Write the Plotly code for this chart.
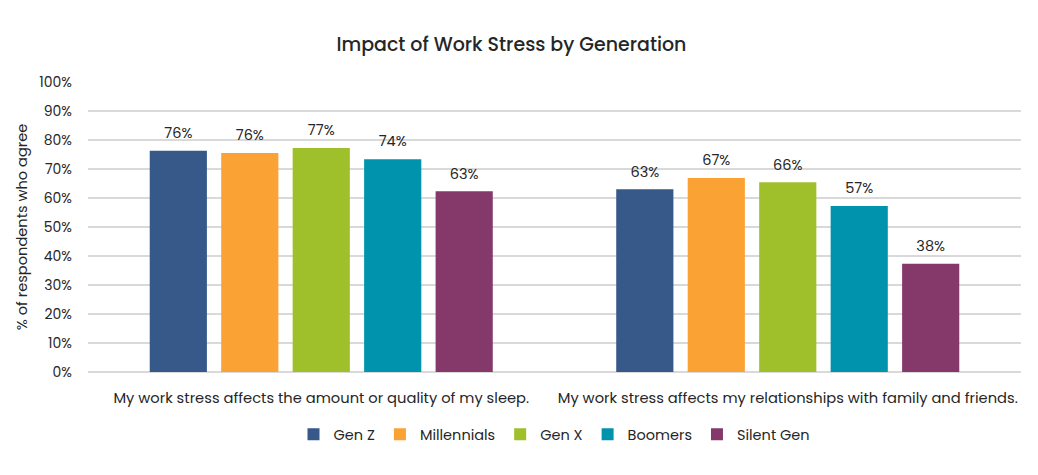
#!/usr/bin/env python3
"""Impact of work stress by generation - grouped bar chart."""

import plotly.graph_objects as go

FONT_FAMILY = "Poppins, Inter, 'Open Sans', sans-serif"
TEXT_COLOR = "#262626"
GRID_COLOR = "#d9d9d9"

categories = [
    "My work stress affects the amount or quality of my sleep.",
    "My work stress affects my relationships with family and friends.",
]
generations = ["Gen Z", "Millennials", "Gen X", "Boomers", "Silent Gen"]
colors = ["#36598a", "#fba235", "#9fbf2b", "#0093ad", "#85396b"]

# % agreeing, per generation: [sleep, relationships]
values = {
    "Gen Z": [76.3, 63.0],
    "Millennials": [75.5, 66.9],
    "Gen X": [77.2, 65.4],
    "Boomers": [73.4, 57.2],
    "Silent Gen": [62.3, 37.3],
}
labels = {
    "Gen Z": ["76%", "63%"],
    "Millennials": ["76%", "67%"],
    "Gen X": ["77%", "66%"],
    "Boomers": ["74%", "57%"],
    "Silent Gen": ["63%", "38%"],
}
y_ticks = list(range(0, 101, 10))
y_tick_labels = [f"{t}%" for t in y_ticks]

fig = go.Figure()

for gen, color in zip(generations, colors):
    fig.add_trace(
        go.Bar(
            name=gen,
            x=categories,
            y=values[gen],
            # small base font + blank second line lifts the label off the bar top
            text=[f"<span style='font-size:14.5px'>{t}</span><br> " for t in labels[gen]],
            textposition="outside",
            textfont=dict(size=6, color=TEXT_COLOR, family=FONT_FAMILY),
            constraintext="none",
            cliponaxis=False,
            marker=dict(color=color, line=dict(width=0)),
        )
    )

# the page body adds an 8px offset, so margins are trimmed to compensate
fig.update_layout(
    title=dict(
        text="Impact of Work Stress by Generation",
        x=0.485,
        xanchor="center",
        y=0.924,
        yanchor="middle",
        font=dict(size=19, color=TEXT_COLOR, family=FONT_FAMILY, weight=500),
    ),
    font=dict(family=FONT_FAMILY, color=TEXT_COLOR, size=14),
    barmode="group",
    bargap=0.234,
    bargroupgap=0.2,
    plot_bgcolor="white",
    paper_bgcolor="white",
    margin=dict(l=80, r=25, t=74, b=111, autoexpand=False),
    width=1038,
    height=475,
    xaxis=dict(
        showgrid=False,
        showline=False,
        ticks="",
        ticklabelstandoff=15,
        tickfont=dict(size=14.7, color=TEXT_COLOR),
    ),
    yaxis=dict(
        range=[0, 100],
        tickvals=y_ticks,
        ticktext=y_tick_labels,
        showgrid=True,
        gridcolor=GRID_COLOR,
        gridwidth=2,
        zeroline=True,
        zerolinecolor=GRID_COLOR,
        zerolinewidth=2,
        ticks="",
        ticklabelstandoff=15,
        tickfont=dict(size=14, color=TEXT_COLOR),
        title=dict(
            text="% of respondents who agree",
            font=dict(size=14.6, color=TEXT_COLOR),
            standoff=8,
        ),
    ),
    legend=dict(
        orientation="h",
        x=0.5,
        xanchor="center",
        y=-0.215,
        yanchor="middle",
        font=dict(size=14.5, color=TEXT_COLOR),
        itemwidth=30,
        traceorder="normal",
    ),
)

fig.write_html("out.html")
